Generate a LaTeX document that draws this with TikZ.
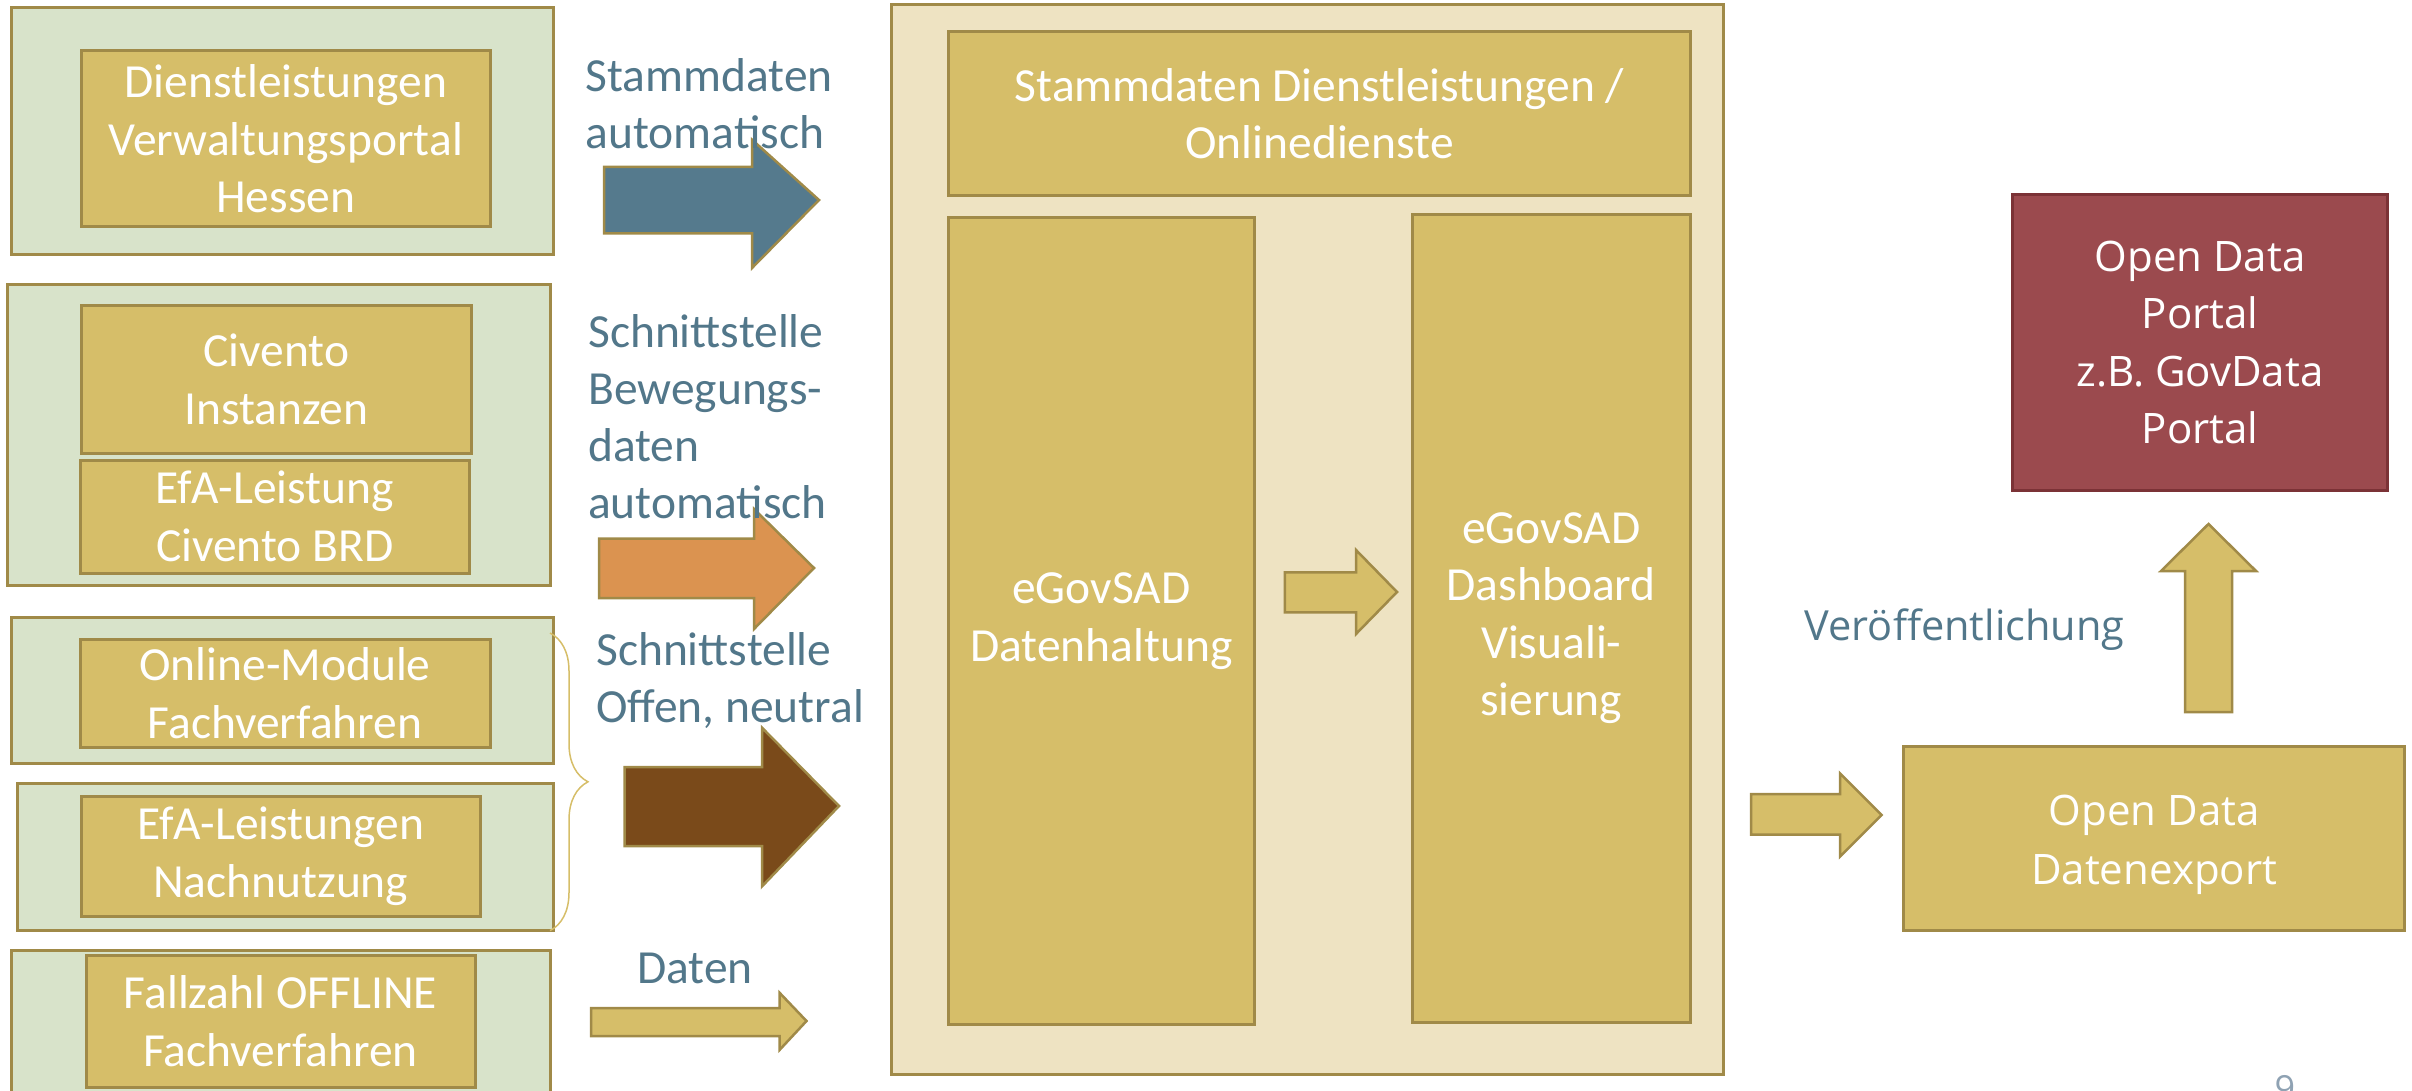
\documentclass[tikz,border=0pt]{standalone}
\usepackage{fontspec}
\setmainfont{Carlito}
\newfontfamily\osans{Open Sans}
\usetikzlibrary{decorations.pathreplacing}
\definecolor{gold}{HTML}{D6BE69}
\definecolor{goldline}{HTML}{A08A48}
\definecolor{sage}{HTML}{D8E3CA}
\definecolor{beige}{HTML}{EEE3C2}
\definecolor{slate}{HTML}{557A8D}
\definecolor{labelc}{HTML}{52778A}
\definecolor{orangeA}{HTML}{DB9350}
\definecolor{brownA}{HTML}{7A4A1A}
\definecolor{redbox}{HTML}{9B4A4E}
\definecolor{redline}{HTML}{7B3236}
\definecolor{pagenum}{HTML}{8FA2B3}
\tikzset{
  outerbox/.style={draw=goldline, fill=sage, line width=3pt, rectangle, inner sep=0pt},
  contbox/.style={draw=goldline, fill=beige, line width=3pt, rectangle, inner sep=0pt},
  goldbox/.style={draw=goldline, fill=gold, line width=3pt, rectangle, inner sep=0pt,
    text=white, align=center, font=\fontsize{47.5}{57.5}\selectfont},
  portalbox/.style={draw=redline, fill=redbox, line width=3pt, rectangle, inner sep=0pt,
    text=white, align=center, font=\osans\fontsize{42}{57.5}\selectfont},
  exportbox/.style={draw=goldline, fill=gold, line width=3pt, rectangle, inner sep=0pt},
  exporttext/.style={text=white, align=center, inner sep=0pt, font=\osans\fontsize{42}{59}\selectfont},
  lbl/.style={text=labelc, inner sep=0pt, anchor=base west, font=\fontsize{47.5}{57}\selectfont},
  blockarrow/.style={draw=goldline, line width=2.5pt, line join=miter},
}
\newcommand{\lines}[1]{\begin{tabular}[t]{@{}l@{}}#1\end{tabular}}
\begin{document}
\begin{tikzpicture}[x=1pt, y=-1pt]
\useasboundingbox (0,0) rectangle (2412,1091);

% left source boxes
\node[outerbox, minimum width=541.5pt, minimum height=247pt] (g1) at (282.25,131) {};
\node[goldbox, minimum width=408.5pt, minimum height=175.5pt] (dl) at (285.75,138.75) {Dienstleistungen\\Verwaltungsportal\\Hessen};

\node[outerbox, minimum width=542.5pt, minimum height=300.5pt] (g2) at (278.75,435.25) {};
\node[goldbox, minimum width=389.5pt, minimum height=147pt] (civ) at (276.25,379.5) {Civento\\Instanzen};
\node[goldbox, minimum width=389.5pt, minimum height=113pt] (efa1) at (274.75,516.5) {EfA-Leistung\\Civento BRD};

\node[outerbox, minimum width=541.5pt, minimum height=146pt] (g3) at (282.25,690) {};
\node[goldbox, minimum width=410pt, minimum height=108pt] (onl) at (285,693) {Online-Module\\Fachverfahren};

\node[outerbox, minimum width=536pt, minimum height=147.6pt] (g4) at (285,856.8) {};
\node[goldbox, minimum width=398.5pt, minimum height=120.5pt] (efa2) at (280.75,856.25) {EfA-Leistungen\\Nachnutzung};

\node[outerbox, minimum width=538.5pt, minimum height=170pt] (g5) at (280.75,1035) {};
\node[goldbox, minimum width=389pt, minimum height=132.6pt] (fall) at (280.5,1021.3) {Fallzahl OFFLINE\\Fachverfahren};

% brace
\coordinate (bt) at (550,633);
\coordinate (bb) at (550,930.6);
\draw[decorate, decoration={brace, amplitude=38pt}, draw=gold, line width=1.5pt] (bt) -- (bb);

% central container
\node[contbox, minimum width=832.5pt, minimum height=1069.8pt] (cont) at (1307.25,539.9) {};
\node[goldbox, minimum width=742pt, minimum height=164.6pt] (stamm) at (1319.6,113.7) {Stammdaten Dienstleistungen /\\Onlinedienste};
\node[goldbox, minimum width=305.4pt, minimum height=806.7pt] (dh) at (1101.3,621.35) {eGovSAD\\Datenhaltung};
\node[goldbox, minimum width=278.6pt, minimum height=807.7pt] (dash) at (1551.3,618.15) {eGovSAD\\Dashboard\\Visuali-\\sierung};

% right side
\node[portalbox, minimum width=375.2pt, minimum height=295pt] (portal) at (2200,342.5) {Open Data\\Portal\\z.B. GovData\\Portal};
\node[exportbox, minimum width=501.3pt, minimum height=184.6pt] (export) at (2154.15,838.3) {};
\node[exporttext] (exporttxt) at ([yshift=-7pt]export.center) {Open Data\\Datenexport};

% block arrows
\draw[blockarrow, fill=slate] (604,167) -- (752,167) -- (752,139.7) -- (819,200) -- (752,268) -- (752,233.5) -- (604,233.5) -- cycle;
\draw[blockarrow, fill=orangeA] (599,538.5) -- (754,538.5) -- (754,509) -- (814,568) -- (754,629) -- (754,598) -- (599,598) -- cycle;
\draw[blockarrow, fill=brownA] (624.5,767) -- (762,767) -- (762,727.7) -- (839,806) -- (762,886.4) -- (762,846) -- (624.5,846) -- cycle;
\draw[blockarrow, fill=gold] (591,1008) -- (779.5,1008) -- (779.5,992.7) -- (806.5,1021) -- (779.5,1050) -- (779.5,1036) -- (591,1036) -- cycle;
\draw[blockarrow, fill=gold] (1284.8,572.4) -- (1356,572.4) -- (1356,550) -- (1397,592) -- (1356,634) -- (1356,612.3) -- (1284.8,612.3) -- cycle;
\draw[blockarrow, fill=gold] (1751,794) -- (1840,794) -- (1840,773.5) -- (1881.7,815) -- (1840,856.6) -- (1840,834.7) -- (1751,834.7) -- cycle;
\draw[blockarrow, fill=gold] (2185,712) -- (2185,571) -- (2161,571) -- (2208.5,524) -- (2256,571) -- (2232,571) -- (2232,712) -- cycle;

% labels
\node[lbl] (l1) at (585.5,92) {\lines{Stammdaten\\automatisch}};
\node[lbl] (l2) at (588,347.5) {\lines{Schnittstelle\\Bewegungs-\\daten\\automatisch}};
\node[lbl] (l3) at (596,665.6) {\lines{Schnittstelle\\Offen, neutral}};
\node[lbl] (l4) at (637,983) {Daten};
\node[lbl, font=\osans\fontsize{41.5}{57}\selectfont] (l5) at (1804.5,640) {Ver\"offentlichung};

% page number (cut off at the lower edge, as in the reference)
\node[text=pagenum, inner sep=0pt, anchor=north, font=\osans\fontsize{36}{40}\selectfont] (pg) at (2285,1075) {9};
\end{tikzpicture}
\end{document}
